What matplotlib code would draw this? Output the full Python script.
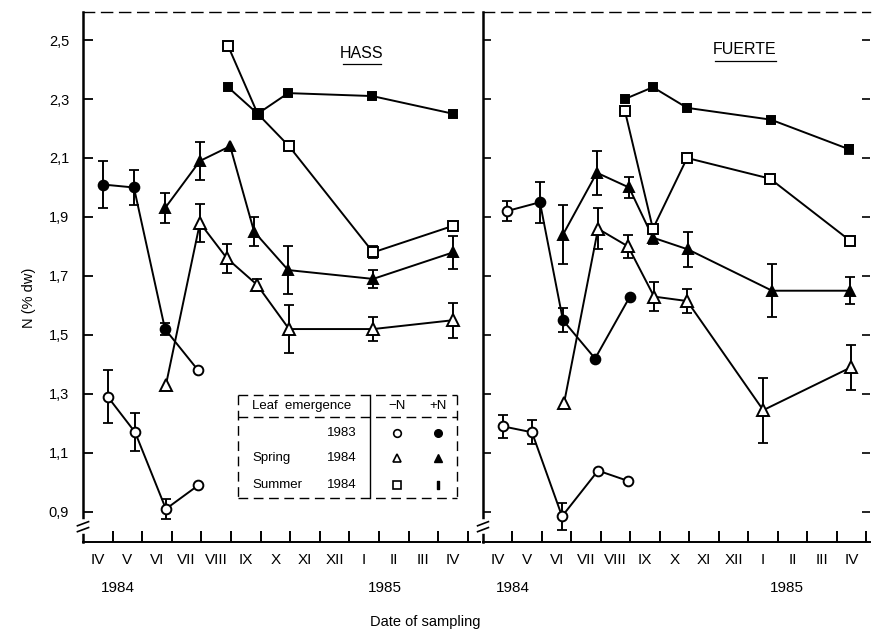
import matplotlib.pyplot as plt
from matplotlib.lines import Line2D

plt.rcParams['font.family'] = ['Liberation Sans', 'DejaVu Sans']

# month axis: 0 = start of April 1984, labels sit mid-month
month_labels = ['IV', 'V', 'VI', 'VII', 'VIII', 'IX', 'X', 'XI', 'XII', 'I', 'II', 'III', 'IV']
y_ticks = [0.9, 1.1, 1.3, 1.5, 1.7, 1.9, 2.1, 2.3, 2.5]
y_tick_labels = ['0,9', '1,1', '1,3', '1,5', '1,7', '1,9', '2,1', '2,3', '2,5']

# ---- HASS ----
hass_c83_minus_x = [0.84, 1.76, 2.80, 3.89]
hass_c83_minus_y = [1.29, 1.17, 0.91, 0.99]
hass_c83_minus_e = [0.09, 0.065, 0.035, 0]

hass_c83_plus_x = [0.68, 1.72, 2.77, 3.89]
hass_c83_plus_y = [2.01, 2.00, 1.52, 1.38]
hass_c83_plus_e = [0.08, 0.06, 0.02, 0]

hass_spr_minus_x = [2.80, 3.95, 4.86, 5.88, 6.96, 9.80, 12.5]
hass_spr_minus_y = [1.33, 1.88, 1.76, 1.67, 1.52, 1.52, 1.55]
hass_spr_minus_e = [0, 0.065, 0.05, 0.02, 0.08, 0.04, 0.06]

hass_spr_plus_x = [2.77, 3.95, 4.97, 5.78, 6.93, 9.80, 12.5]
hass_spr_plus_y = [1.93, 2.09, 2.14, 1.85, 1.72, 1.69, 1.78]
hass_spr_plus_e = [0.05, 0.065, 0, 0.05, 0.08, 0.03, 0.055]

hass_sum_minus_x = [4.90, 5.90, 6.96, 9.80, 12.5]
hass_sum_minus_y = [2.48, 2.25, 2.14, 1.78, 1.87]
hass_sum_minus_e = [0, 0, 0, 0.02, 0]

hass_sum_plus_x = [4.90, 5.90, 6.93, 9.77, 12.5]
hass_sum_plus_y = [2.34, 2.25, 2.32, 2.31, 2.25]
hass_sum_plus_e = [0, 0, 0.01, 0.01, 0.01]

# ---- FUERTE ----
fu_c83_minus_x = [0.68, 1.66, 2.68, 3.90, 4.92]
fu_c83_minus_y = [1.19, 1.17, 0.885, 1.04, 1.005]
fu_c83_minus_e = [0.04, 0.04, 0.045, 0, 0]

fu_c83_plus_x = [0.81, 1.93, 2.71, 3.80, 4.98]
fu_c83_plus_y = [1.92, 1.95, 1.55, 1.42, 1.63]
fu_c83_plus_e = [0.035, 0.07, 0.04, 0, 0]

fu_spr_minus_x = [2.75, 3.90, 4.92, 5.80, 6.92, 9.50, 12.47]
fu_spr_minus_y = [1.27, 1.86, 1.80, 1.63, 1.615, 1.245, 1.39]
fu_spr_minus_e = [0, 0.07, 0.04, 0.05, 0.04, 0.11, 0.075]

fu_spr_plus_x = [2.71, 3.86, 4.95, 5.76, 6.95, 9.80, 12.44]
fu_spr_plus_y = [1.84, 2.05, 2.00, 1.83, 1.79, 1.65, 1.65]
fu_spr_plus_e = [0.10, 0.075, 0.035, 0.02, 0.06, 0.09, 0.045]

fu_sum_minus_x = [4.81, 5.76, 6.92, 9.73, 12.44]
fu_sum_minus_y = [2.26, 1.86, 2.10, 2.03, 1.82]

fu_sum_plus_x = [4.81, 5.76, 6.92, 9.76, 12.40]
fu_sum_plus_y = [2.30, 2.34, 2.27, 2.23, 2.13]
fu_sum_plus_e = [0, 0, 0, 0.01, 0.015]

W, H = 873, 637
fig = plt.figure(figsize=(W / 100, H / 100), dpi=100)


def fx(px):
    return px / W


def fy(py):
    return 1 - py / H


def serie(ax, x, y, e, marker, filled, ms=7, open_idx=()):
    ax.plot(x, y, color='k', lw=1.4, zorder=2)
    if e is not None:
        xs = [a for a, b in zip(x, e) if b > 0]
        ys = [a for a, b in zip(y, e) if b > 0]
        es = [b for b in e if b > 0]
        ax.errorbar(xs, ys, yerr=es, fmt='none', ecolor='k', elinewidth=1.4,
                    capsize=3.5, capthick=1.3, zorder=2)
    face = ['k' if filled and i not in open_idx else 'white' for i in range(len(x))]
    for xi, yi, fc in zip(x, y, face):
        ax.plot(xi, yi, marker=marker, ms=ms, mfc=fc, mec='k', mew=1.4,
                linestyle='none', zorder=3)


def style(ax, ylab):
    ax.set_xlim(0, ax_xmax[ax])
    ax.set_ylim(0.798, 2.595)
    ax.set_xticks(range(1, 14))
    ax.set_xticklabels([])
    ax.set_xticks([m + 0.5 for m in range(13)], minor=True)
    ax.set_xticklabels(month_labels, minor=True, fontsize=11)
    ax.tick_params(axis='x', which='major', direction='in', length=8, width=1.4)
    ax.tick_params(axis='x', which='minor', length=0, pad=8)
    ax.set_yticks(y_ticks)
    if ylab:
        ax.set_yticklabels(y_tick_labels, fontsize=10.5)
        ax.tick_params(axis='y', direction='in', length=7, width=1.3, pad=10)
    else:
        ax.set_yticklabels([])
        ax.tick_params(axis='y', direction='in', length=6, width=1.2,
                       right=True)
    ax.spines['right'].set_visible(False)
    ax.spines['left'].set_linewidth(1.8)
    ax.spines['bottom'].set_linewidth(1.4)
    ax.spines['top'].set_linewidth(1.0)
    ax.spines['top'].set_linestyle((0, (8, 5)))
    # axis break
    tr = ax.get_yaxis_transform()
    ax.plot([0, 0], [0.835, 0.865], color='white', lw=4, transform=tr,
            clip_on=False, zorder=5)
    for yb in (0.833, 0.853):
        ax.plot([-0.014, 0.014], [yb, yb + 0.014], color='k', lw=1.2,
                transform=tr, clip_on=False, zorder=6)


ax1 = fig.add_axes([fx(83), fy(542), fx(480) - fx(83), fy(12) - fy(542)])
ax2 = fig.add_axes([fx(483), fy(542), fx(870) - fx(483), fy(12) - fy(542)])
ax_xmax = {ax1: 13.41, ax2: 13.12}
style(ax1, True)
style(ax2, False)

serie(ax1, hass_c83_minus_x, hass_c83_minus_y, hass_c83_minus_e, 'o', False)
serie(ax1, hass_c83_plus_x, hass_c83_plus_y, hass_c83_plus_e, 'o', True, open_idx=(3,))
serie(ax1, hass_spr_minus_x, hass_spr_minus_y, hass_spr_minus_e, '^', False, ms=8)
serie(ax1, hass_spr_plus_x, hass_spr_plus_y, hass_spr_plus_e, '^', True, ms=7)
serie(ax1, hass_sum_minus_x, hass_sum_minus_y, hass_sum_minus_e, 's', False, ms=7)
serie(ax1, hass_sum_plus_x, hass_sum_plus_y, hass_sum_plus_e, 's', True, ms=6)

serie(ax2, fu_c83_minus_x, fu_c83_minus_y, fu_c83_minus_e, 'o', False)
serie(ax2, fu_c83_plus_x, fu_c83_plus_y, fu_c83_plus_e, 'o', True, open_idx=(0,))
serie(ax2, fu_spr_minus_x, fu_spr_minus_y, fu_spr_minus_e, '^', False, ms=8)
serie(ax2, fu_spr_plus_x, fu_spr_plus_y, fu_spr_plus_e, '^', True, ms=7)
serie(ax2, fu_sum_minus_x, fu_sum_minus_y, None, 's', False, ms=7)
serie(ax2, fu_sum_plus_x, fu_sum_plus_y, fu_sum_plus_e, 's', True, ms=6)

# panel titles (underlined)
fig.text(fx(362), fy(53), 'HASS', fontsize=11.5, ha='center', va='center')
fig.add_artist(Line2D([fx(343), fx(381)], [fy(64), fy(64)], color='k', lw=0.9))
fig.text(fx(745), fy(50), 'FUERTE', fontsize=11.5, ha='center', va='center')
fig.add_artist(Line2D([fx(715), fx(776)], [fy(61), fy(61)], color='k', lw=0.9))

# years and axis titles
for px, lab in [(118, '1984'), (385, '1985'), (513, '1984'), (787, '1985')]:
    fig.text(fx(px), fy(588), lab, fontsize=11, ha='center', va='center')
fig.text(fx(425), fy(622), 'Date of sampling', fontsize=10.5, ha='center', va='center')
fig.text(fx(29), fy(298), 'N (% dw)', fontsize=10.5, ha='center', va='center',
         rotation=90)

# legend table
dash = (0, (7, 4))
for xs, ys in [([238, 457], [395, 395]), ([238, 457], [498, 498]),
               ([238, 238], [395, 498]), ([457, 457], [395, 498]),
               ([238, 457], [417, 417]), ([370, 370], [395, 498])]:
    ls = '-' if xs[0] == 370 else dash
    fig.add_artist(Line2D([fx(v) for v in xs], [fy(v) for v in ys],
                          color='k', lw=1.0, linestyle=ls))
fig.text(fx(252), fy(406), 'Leaf  emergence', fontsize=9.5, ha='left', va='center')
fig.text(fx(397), fy(406), '\u2212N', fontsize=9.5, ha='center', va='center')
fig.text(fx(438), fy(406), '+N', fontsize=9.5, ha='center', va='center')
rows = [(433, '', '1983', 'o', 'o'), (458, 'Spring', '1984', '^', '^'),
        (485, 'Summer', '1984', 's', '$\\mathbf{I}$')]
for py, season, year, m1, m2 in rows:
    fig.text(fx(252), fy(py), season, fontsize=9.5, ha='left', va='center')
    fig.text(fx(357), fy(py), year, fontsize=9.5, ha='right', va='center')
    fig.add_artist(Line2D([fx(397)], [fy(py)], marker=m1, ms=5.5, mfc='white',
                          mec='k', mew=1.2, linestyle='none'))
    fig.add_artist(Line2D([fx(438)], [fy(py)], marker=m2, ms=5.5, mfc='k',
                          mec='k', mew=1.0, linestyle='none'))

fig.savefig('out.png', dpi=100)
